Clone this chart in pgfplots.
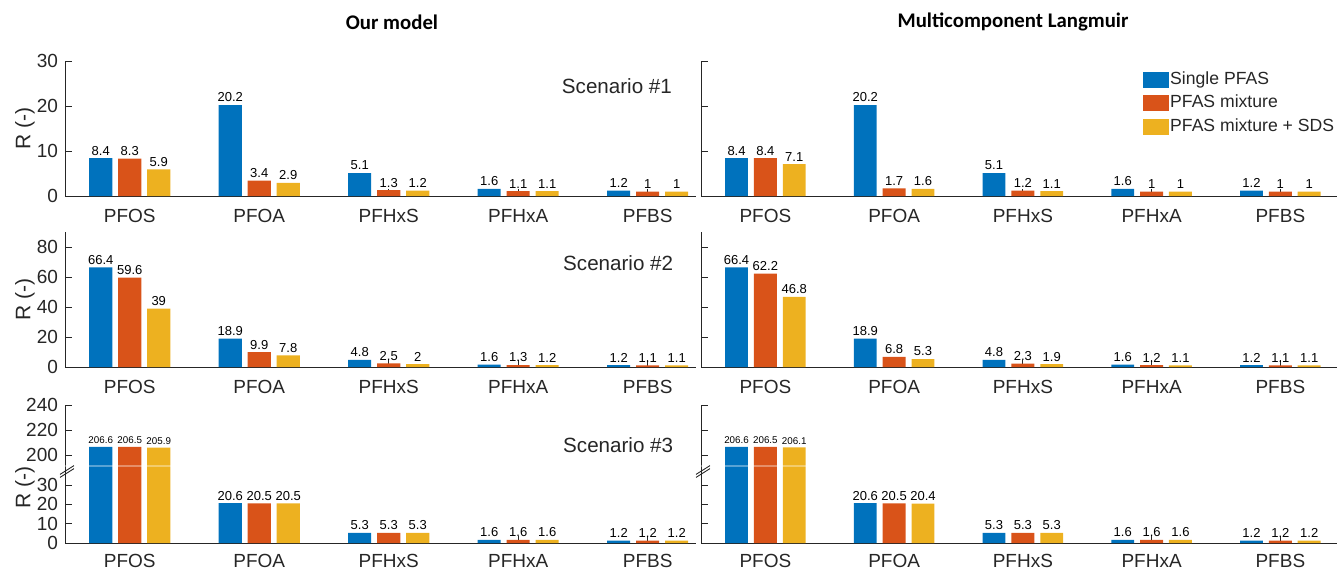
\documentclass[border=0pt]{standalone}
\usepackage{fontspec}
\setmainfont{Liberation Sans}
\newfontfamily\titlefont{Carlito}
\usepackage{pgfplots}
\usepackage{pgfplotstable}
\pgfplotsset{compat=1.18}
\definecolor{mblue}{rgb}{0,0.447,0.741}
\definecolor{morange}{rgb}{0.85,0.325,0.098}
\definecolor{myellow}{rgb}{0.929,0.694,0.125}
\definecolor{axgray}{rgb}{0.15,0.15,0.15}
\newcommand\lblfont{\fontsize{6.5}{7}\selectfont}

% Our model
\pgfplotstableread{
x a b c
1 8.4 8.3 5.9
2 20.2 3.4 2.9
3 5.1 1.3 1.2
4 1.6 1.1 1.1
5 1.2 1 1
}\OMa
\pgfplotstableread{
x a b c
1 66.4 59.6 39
2 18.9 9.9 7.8
3 4.8 2.5 2
4 1.6 1.3 1.2
5 1.2 1.1 1.1
}\OMb
\pgfplotstableread{
x a b c
1 206.6 206.5 205.9
2 20.6 20.5 20.5
3 5.3 5.3 5.3
4 1.6 1.6 1.6
5 1.2 1.2 1.2
}\OMc
% Multicomponent Langmuir
\pgfplotstableread{
x a b c
1 8.4 8.4 7.1
2 20.2 1.7 1.6
3 5.1 1.2 1.1
4 1.6 1 1
5 1.2 1 1
}\MLa
\pgfplotstableread{
x a b c
1 66.4 62.2 46.8
2 18.9 6.8 5.3
3 4.8 2.3 1.9
4 1.6 1.2 1.1
5 1.2 1.1 1.1
}\MLb
\pgfplotstableread{
x a b c
1 206.6 206.5 206.1
2 20.6 20.5 20.4
3 5.3 5.3 5.3
4 1.6 1.6 1.6
5 1.2 1.2 1.2
}\MLc

\pgfplotsset{
 panel/.style={scale only axis, axis x line*=bottom, axis y line*=left,
   axis line style={axgray,-,line width=0.45pt}, tick align=inside, major tick length=3.5pt,
   tick style={axgray, line width=0.45pt}, xmin=0.5, xtick={1,2,3,4,5},
   xticklabels={PFOS,PFOA,PFHxS,PFHxA,PFBS}, ymin=0,
   tick label style={font=\fontsize{9.5}{11}\selectfont, text=axgray},
   xticklabel style={yshift=-3pt},
   every axis y label/.style={at={(rel axis cs:0,0.5)}, anchor=center, rotate=90, yshift=20pt,
     font=\fontsize{10.5}{12}\selectfont, text=axgray},
   /pgf/number format/assume math mode=true, clip=false},
 leftp/.style={panel, width=315.5pt, xmax=5.373, ylabel={R (-)}},
 rightp/.style={panel, width=318pt, xmax=5.44, yticklabels={}},
 row1/.style={height=67.5pt, ymax=30, ytick={0,10,20,30}},
 row2/.style={height=67.5pt, ymax=90, ytick={0,20,40,60,80}},
 row3/.style={height=69pt, ymax=240, ytick={0,10,20,30,200,220,240},
   xticklabel style={yshift=1pt},
   y coord trafo/.code={\pgfmathparse{(##1<100)*(##1)+(##1>=100)*(45.5+(##1-200)*0.6466)}}},
 mybar/.style={ybar, bar shift=0pt, bar width=0.178, fill=#1, draw=none, forget plot,
   point meta=explicit symbolic,
   nodes near coords={\ifdim\pgfplotspointmeta pt>100pt\fontsize{4.9}{5}\selectfont\fi\pgfplotspointmeta},
   every node near coord/.append style={font=\lblfont, anchor=south, inner sep=1.3pt, text=black}},
}
\tikzset{scen/.style={anchor=east, font=\fontsize{10.3}{12}\selectfont, text=axgray}}
\newcommand\bars[1]{%
  \addplot[mybar=mblue] table[x expr=\thisrow{x}-0.224, y=a, meta=a]{#1};
  \addplot[mybar=morange] table[x=x, y=b, meta=b]{#1};
  \addplot[mybar=myellow] table[x expr=\thisrow{x}+0.224, y=c, meta=c]{#1};
}
\newcommand\brk{%
  \draw[white, opacity=0.35, line width=0.6pt] (rel axis cs:0,0.558) -- (rel axis cs:1,0.558);
  \draw[axgray, line width=0.45pt] (rel axis cs:0,0.529) ++(-2.5pt,-2.2pt) -- ++(7pt,4.4pt);
  \draw[axgray, line width=0.45pt] (rel axis cs:0,0.529) ++(-2.5pt,-3.7pt) -- ++(7pt,4.4pt);
}

\begin{document}
\begin{tikzpicture}
\path[use as bounding box] (0,0) rectangle (669.5pt,284.5pt);

\node[font=\titlefont\bfseries\fontsize{10.4}{12}\selectfont] at (196pt,273.5pt) {Our model};
\node[font=\titlefont\bfseries\fontsize{10.4}{12}\selectfont] at (506.5pt,273.5pt) {Multicomponent Langmuir};

% Row 1
\begin{axis}[leftp, row1, at={(32.5pt,186.5pt)}, anchor=south west]
\bars{\OMa}
\node[scen] at (rel axis cs:0.973,0.815) {Scenario \#1};
\end{axis}
\begin{axis}[rightp, row1, at={(350.5pt,186.5pt)}, anchor=south west,
  legend style={draw=none, fill=none, at={(0.695,0.93)}, anchor=north west, inner sep=0pt,
    row sep=2.8pt, font=\fontsize{8.8}{10}\selectfont, text=axgray, nodes={inner sep=0.5pt}},
  legend cell align=left]
\bars{\MLa}
\addlegendimage{legend image code/.code={\fill[mblue] (0pt,-3.75pt) rectangle (12.5pt,3.75pt);}}
\addlegendentry{Single PFAS}
\addlegendimage{legend image code/.code={\fill[morange] (0pt,-3.75pt) rectangle (12.5pt,3.75pt);}}
\addlegendentry{PFAS mixture}
\addlegendimage{legend image code/.code={\fill[myellow] (0pt,-3.75pt) rectangle (12.5pt,3.75pt);}}
\addlegendentry{PFAS mixture + SDS}
\end{axis}

% Row 2
\begin{axis}[leftp, row2, at={(32.5pt,101pt)}, anchor=south west]
\bars{\OMb}
\node[scen] at (rel axis cs:0.975,0.77) {Scenario \#2};
\end{axis}
\begin{axis}[rightp, row2, at={(350.5pt,101pt)}, anchor=south west]
\bars{\MLb}
\end{axis}

% Row 3
\begin{axis}[leftp, row3, at={(32.5pt,13pt)}, anchor=south west,
  yticklabels={0,10,20,30,200,220,240},
  every axis y label/.append style={at={(rel axis cs:0,0.40)}}]
\bars{\OMc}
\brk
\node[scen] at (rel axis cs:0.975,0.71) {Scenario \#3};
\end{axis}
\begin{axis}[rightp, row3, at={(350.5pt,13pt)}, anchor=south west]
\bars{\MLc}
\brk
\end{axis}
\end{tikzpicture}
\end{document}
